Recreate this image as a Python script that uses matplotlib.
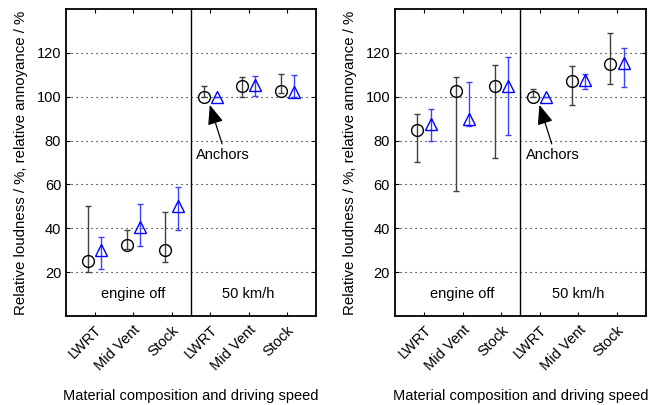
import matplotlib.pyplot as plt
import numpy as np

plt.rcParams['font.family'] = ['Liberation Sans', 'DejaVu Sans']
plt.rcParams['font.size'] = 10

tick_labels = ['LWRT', 'Mid Vent', 'Stock', 'LWRT', 'Mid Vent', 'Stock']
positions = np.arange(1, 7)

# left panel: loudness (circles) and annoyance (triangles)
left_loud = [25, 32.5, 30, 100, 105, 102.5]
left_loud_lo = [20, 30.5, 24.5, 100, 100, 101.5]
left_loud_hi = [50, 39, 47.5, 105, 109, 110.5]
left_ann = [30, 40.5, 50, 100, 105.5, 102]
left_ann_lo = [21.5, 32, 39, 100, 100.5, 100]
left_ann_hi = [36, 51, 59, 100, 109.5, 110]

# right panel
right_loud = [85, 102.5, 105, 100, 107.3, 115]
right_loud_lo = [70, 57, 72, 100, 96, 106]
right_loud_hi = [92, 109, 114.5, 103.5, 114, 129]
right_ann = [87.5, 90, 105, 100, 107.8, 115.2]
right_ann_lo = [80, 86.5, 82.5, 100, 103.5, 104.5]
right_ann_hi = [94.5, 106.5, 118, 100, 110.5, 122]


def draw_panel(ax, loud, loud_lo, loud_hi, ann, ann_lo, ann_hi):
    loud = np.array(loud)
    ann = np.array(ann)
    ax.errorbar(positions - 0.17, loud,
                yerr=[loud - np.array(loud_lo), np.array(loud_hi) - loud],
                fmt='o', mfc='none', mec='black', ms=8.5, mew=1.0,
                ecolor='0.25', elinewidth=1.0, capsize=2.5, zorder=3)
    ax.errorbar(positions + 0.17, ann,
                yerr=[ann - np.array(ann_lo), np.array(ann_hi) - ann],
                fmt='^', mfc='none', mec='blue', ms=9, mew=1.0,
                ecolor='#4040ff', elinewidth=1.0, capsize=2.5, zorder=3)
    ax.axvline(3.5, color='black', lw=1.0)
    ax.set_xlim(0.25, 6.75)
    ax.set_ylim(0, 140)
    ax.set_yticks([20, 40, 60, 80, 100, 120])
    ax.set_xticks(positions)
    ax.set_xticklabels(tick_labels, rotation=45, ha='right', rotation_mode='anchor')
    ax.grid(axis='y', color='black', linestyle=(0, (1, 3.5)), linewidth=0.8)
    ax.tick_params(direction='in', top=True, right=True, length=3, labelsize=10.5)
    ax.tick_params(axis='x', pad=5)
    for s in ax.spines.values():
        s.set_linewidth(1.3)
    ax.text(2, 10, 'engine off', ha='center', va='center', fontsize=10.5)
    ax.text(5, 10, '50 km/h', ha='center', va='center', fontsize=10.5)
    ax.text(4.33, 73.5, 'Anchors', ha='center', va='center', fontsize=10.5)
    ax.annotate('', xy=(3.99, 96.3), xytext=(4.31, 78.5),
                arrowprops=dict(arrowstyle='-|>,head_length=0.75,head_width=0.3',
                                color='black', lw=0.9, mutation_scale=16,
                                shrinkA=0, shrinkB=0))
    ax.set_ylabel('Relative loudness / %, relative annoyance / %', fontsize=10.8, labelpad=6)
    ax.set_xlabel('Material composition and driving speed', fontsize=10.5, labelpad=11)


fig = plt.figure(figsize=(6.49, 4.05), dpi=100)
ax1 = fig.add_axes([0.1017, 0.2198, 0.385, 0.758])
ax2 = fig.add_axes([0.6086, 0.2198, 0.3867, 0.758])
draw_panel(ax1, left_loud, left_loud_lo, left_loud_hi, left_ann, left_ann_lo, left_ann_hi)
draw_panel(ax2, right_loud, right_loud_lo, right_loud_hi, right_ann, right_ann_lo, right_ann_hi)

fig.savefig('out.png', dpi=100)
